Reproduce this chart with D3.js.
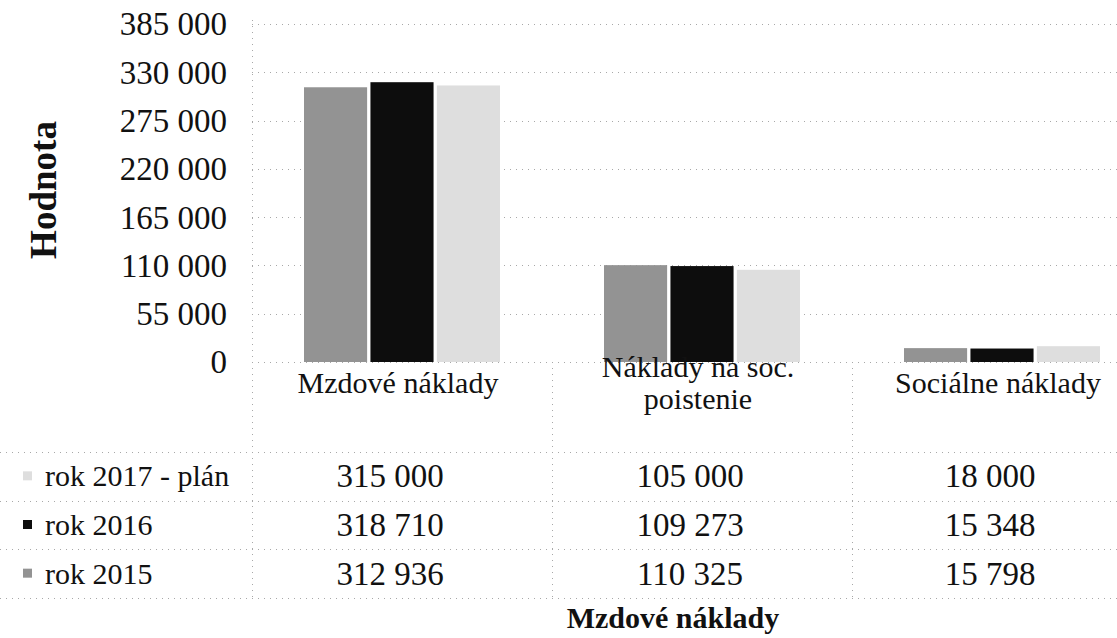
<!DOCTYPE html>
<html>
<head>
<meta charset="utf-8">
<script src="https://cdn.jsdelivr.net/npm/d3@7"></script>
<style>
  html, body { margin: 0; padding: 0; background: #fff; }
  svg { display: block; }
  svg text { font-family: "Liberation Serif", Tinos, "Times New Roman", Times, "DejaVu Serif", serif; fill: #111; }
</style>
</head>
<body>
<script>
// ---- data ----
const categories = ["Mzdové náklady", "Náklady na soc. poistenie", "Sociálne náklady"];
const categoryLines = [["Mzdové náklady"], ["Náklady na soc.", "poistenie"], ["Sociálne náklady"]];
const seriesNames = ["rok 2015", "rok 2016", "rok 2017 - plán"];
const values2015 = [312936, 110325, 15798];
const values2016 = [318710, 109273, 15348];
const values2017 = [315000, 105000, 18000];
const yTicks = [0, 55000, 110000, 165000, 220000, 275000, 330000, 385000];
const tableOrder = ["rok 2017 - plán", "rok 2016", "rok 2015"];
const xTitle = "Mzdové náklady";
const yTitle = "Hodnota";

const seriesValues = { "rok 2015": values2015, "rok 2016": values2016, "rok 2017 - plán": values2017 };
const seriesColor = { "rok 2015": "#939393", "rok 2016": "#0d0d0d", "rok 2017 - plán": "#dedede" };

const W = 1117, H = 638;
const FS = 30, NUM_FS = 33;
const fmt = v => d3.format(",")(v).replace(/,/g, "\u00a0");

const svg = d3.select("body").append("svg").attr("width", W).attr("height", H);

const x0 = d3.scaleBand().domain(categories).range([252, 1152]).paddingInner(0).paddingOuter(0);
const x1 = d3.scaleBand().domain(seriesNames).range([52, 248]).paddingInner(0.05).paddingOuter(0);
const y = d3.scaleLinear().domain([0, 385000]).range([362, 24]);

const gridStyle = sel => sel.attr("stroke", "#a8a8a8").attr("stroke-width", 1).attr("stroke-dasharray", "1 5");

// gridlines
svg.append("g").selectAll("line").data(yTicks).join("line")
  .attr("x1", 252).attr("x2", W)
  .attr("y1", d => Math.round(y(d)) + 0.5).attr("y2", d => Math.round(y(d)) + 0.5)
  .call(gridStyle);

// y axis (labels only)
const yAxis = d3.axisLeft(y).tickValues(yTicks).tickSize(0).tickPadding(0).tickFormat(fmt);
const gy = svg.append("g").attr("transform", "translate(227,0)").call(yAxis);
gy.attr("font-family", null).attr("font-size", null);
gy.select(".domain").remove();
gy.selectAll("text").attr("font-size", NUM_FS).attr("fill", "#111").attr("dy", "0.33em");

// bars
const groups = svg.append("g").selectAll("g").data(categories).join("g")
  .attr("transform", d => `translate(${x0(d)},0)`);
groups.selectAll("rect").data((c, i) => seriesNames.map(s => ({ s, v: seriesValues[s][i] }))).join("rect")
  .attr("x", d => x1(d.s))
  .attr("width", x1.bandwidth())
  .attr("y", d => y(d.v))
  .attr("height", d => y(0) - y(d.v))
  .attr("fill", d => seriesColor[d.s]);

// vertical table / axis lines
const vLines = [x0.range()[0]].concat(categories.slice(1).map(c => x0(c)));
svg.append("g").selectAll("line").data(vLines).join("line")
  .attr("x1", d => d + 0.5).attr("x2", d => d + 0.5)
  .attr("y1", (d, i) => i === 0 ? 20 : 362).attr("y2", 598)
  .call(gridStyle);

// category labels
const catG = svg.append("g");
categories.forEach((c, i) => {
  const lines = categoryLines[i];
  const cy = 383;
  const cx = x0(c) + x0.bandwidth() / 2 - 4;
  const t = catG.append("text").attr("x", cx)
    .attr("text-anchor", "middle").attr("font-size", FS);
  lines.forEach((ln, k) => {
    t.append("tspan").attr("x", cx)
      .attr("y", cy + (k - (lines.length - 1) / 2) * 32)
      .attr("dy", "0.33em").text(ln);
  });
});

// table rows
const rowY = d3.scaleBand().domain(tableOrder).range([452, 598]);
svg.append("g").selectAll("line").data([452, 500.5, 549, 598]).join("line")
  .attr("x1", 0).attr("x2", W)
  .attr("y1", d => Math.round(d) + 0.5).attr("y2", d => Math.round(d) + 0.5)
  .call(gridStyle);

const rows = svg.append("g").selectAll("g").data(tableOrder).join("g")
  .attr("transform", d => `translate(0,${rowY(d) + rowY.bandwidth() / 2})`);
rows.append("rect").attr("x", 23).attr("y", -5).attr("width", 9).attr("height", 9)
  .attr("fill", d => seriesColor[d]);
rows.append("text").attr("x", 45).attr("dy", "0.33em").attr("font-size", FS).text(d => d);
rows.selectAll("text.val").data(s => categories.map((c, i) => ({ c, v: seriesValues[s][i] }))).join("text")
  .attr("class", "val")
  .attr("x", d => x0(d.c) + x0.bandwidth() / 2 - 12)
  .attr("text-anchor", "middle").attr("dy", "0.33em").attr("font-size", NUM_FS)
  .text(d => fmt(d.v));

// axis titles
svg.append("text").attr("x", 673).attr("y", 618).attr("dy", "0.33em")
  .attr("text-anchor", "middle").attr("font-size", FS).attr("font-weight", "bold").text(xTitle);
svg.append("text").attr("transform", "translate(44,190) rotate(-90)").attr("dy", "0.33em")
  .attr("text-anchor", "middle").attr("font-size", 37).attr("font-weight", "bold").text(yTitle);
</script>
</body>
</html>
